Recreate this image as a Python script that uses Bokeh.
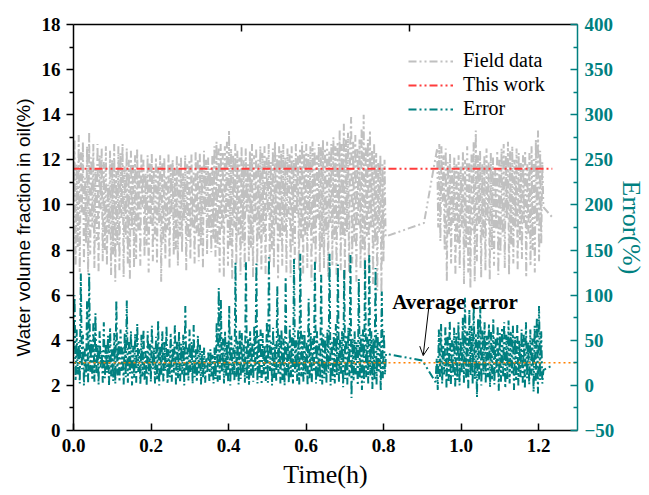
import numpy as np
from bokeh.plotting import figure
from bokeh.models import (Range1d, LinearAxis, FixedTicker, Legend, LegendItem,
                          Arrow, OpenHead, Label, PrintfTickFormatter)
from bokeh.embed import file_html
from bokeh.resources import INLINE

# ---------------- data ----------------
x_ticks = [0.0, 0.2, 0.4, 0.6, 0.8, 1.0, 1.2]
left_ticks = [0, 2, 4, 6, 8, 10, 12, 14, 16, 18]
right_ticks = [-50, 0, 50, 100, 150, 200, 250, 300, 350, 400]

# Field data, first logging period (0 - 0.805 h)
field_a = [
    10.2, 12.9, 7.3, 11.8, 8.1, 13.1, 7.0, 12.4, 9.6, 12.8, 7.4, 11.2, 8.3, 12.6, 6.9, 13.2, 7.8, 12.1, 9.0, 12.7,
    7.2, 11.6, 8.4, 12.7, 7.0, 12.2, 9.8, 12.5, 7.5, 11.9, 8.0, 12.6, 7.3, 10.9, 8.7, 12.4, 6.9, 12.0, 7.8, 12.7,
    6.6, 11.5, 8.2, 12.6, 7.1, 12.3, 9.4, 12.7, 6.8, 11.7, 8.5, 12.5, 7.4, 12.0, 6.7, 12.4, 8.9, 11.8, 7.2, 12.2,
    7.6, 12.5, 8.8, 11.6, 7.3, 12.3, 9.9, 12.0, 7.7, 11.4, 8.2, 12.2, 7.0, 11.9, 9.1, 12.3, 7.5, 11.5, 8.4, 12.1,
    7.4, 11.7, 9.2, 12.2, 6.6, 11.9, 8.3, 12.1, 7.6, 11.3, 8.9, 12.3, 7.2, 11.8, 9.5, 12.0, 7.8, 11.6, 8.0, 12.2,
    7.3, 11.9, 8.6, 12.1, 7.9, 11.4, 9.3, 12.2, 7.1, 11.8, 8.4, 12.0, 7.6, 12.3, 9.0, 11.5, 7.4, 12.4, 8.7, 12.0,
    7.5, 12.3, 8.2, 11.7, 7.2, 12.4, 9.6, 12.0, 7.8, 12.1, 8.8, 11.6, 7.9, 12.2, 8.5, 12.6, 7.7, 12.8, 8.1, 12.5,
    7.0, 12.7, 8.9, 12.3, 6.8, 12.6, 9.4, 12.8, 7.3, 13.3, 8.2, 12.5, 6.7, 12.2, 9.0, 12.7, 7.4, 12.4, 8.6, 12.1,
    6.9, 12.6, 8.3, 12.0, 7.2, 12.5, 9.7, 11.8, 7.5, 12.4, 8.1, 12.7, 6.8, 12.2, 9.2, 12.5, 7.3, 12.0, 8.5, 12.6,
    7.1, 12.3, 8.7, 12.6, 6.9, 12.1, 9.5, 12.7, 7.4, 11.9, 8.0, 12.5, 7.2, 12.8, 9.1, 12.2, 6.7, 12.6, 8.4, 12.4,
    7.3, 12.7, 8.8, 12.1, 7.0, 12.5, 9.3, 12.3, 6.8, 12.6, 8.2, 12.0, 7.5, 12.7, 9.6, 12.2, 7.1, 12.5, 8.5, 12.8,
    6.9, 12.4, 8.6, 12.7, 7.2, 12.3, 9.0, 12.6, 6.6, 12.8, 8.3, 12.5, 7.4, 12.2, 9.4, 12.7, 7.0, 12.6, 8.1, 12.9,
    7.2, 12.5, 8.7, 12.8, 6.8, 12.4, 9.2, 12.7, 7.3, 13.0, 8.4, 12.6, 6.9, 12.8, 9.0, 13.3, 7.1, 12.7, 8.5, 13.6,
    6.7, 12.9, 8.8, 13.2, 7.0, 12.6, 13.9, 7.4, 12.8, 8.3, 13.1, 6.6, 12.5, 9.1, 12.9, 7.2, 13.4, 8.0, 14.0, 6.9,
    12.6, 8.6, 12.9, 7.1, 13.3, 9.0, 12.4, 6.5, 12.7, 8.2, 12.3, 6.2, 11.9, 8.8, 12.2, 6.0, 11.8, 7.5, 12.0, 8.6,
]
field_gap_t = [0.904]
field_gap = [9.2]
# Field data, second logging period (0.938 - 1.212 h)
field_b = [
    12.5, 9.0, 12.7, 8.4, 12.6, 10.1, 12.2, 8.0, 12.5, 6.6, 11.9, 8.7, 12.3, 7.4, 11.6, 9.2, 12.1, 6.9, 11.8, 8.3,
    12.2, 7.2, 11.7, 9.0, 12.4, 6.5, 12.0, 8.1, 12.6, 7.0, 11.9, 6.3, 12.3, 8.8, 12.8, 6.6, 13.3, 7.5, 12.2, 9.1,
    12.4, 6.8, 11.8, 8.5, 12.2, 7.1, 12.5, 9.3, 11.9, 6.7, 12.3, 8.0, 12.1, 7.3, 11.7, 8.9, 12.4, 6.9, 12.0, 7.8,
    12.5, 8.6, 12.7, 7.2, 12.2, 9.4, 12.8, 6.9, 12.4, 8.2, 12.6, 7.4, 12.0, 9.0, 12.5, 7.1, 12.3, 8.4, 11.9, 7.6,
    12.2, 9.2, 12.4, 6.8, 11.8, 8.7, 12.3, 7.3, 12.6, 8.0, 12.1, 7.0, 12.9, 9.1, 13.3, 7.5, 12.4, 8.3, 11.9, 9.9,
]
field_tail_t = [1.235]
field_tail = [9.45]

# This work (model prediction)
model_t = [0.0, 1.235]
model_v = [11.6, 11.6]

# Error (%), first period
error_a = [
    40, 100, 5, 62, 12, 48, 2, 124, 18, 56, 0, 42, 10, 95, 3, 124, 15, 50, 6, 70,
    4, 80, 12, 45, 1, 60, 20, 38, 3, 70, 8, 46, 14, 55, 0, 64, 10, 40, 5, 58,
    2, 94, 11, 50, 4, 62, 16, 42, 1, 58, 9, 94, 3, 48, 13, 60, 0, 44, 8, 57,
    3, 68, 15, 40, 1, 56, 10, 62, 5, 38, 0, 60, 12, 46, 4, 66, 18, 42, 2, 54,
    6, 72, 0, 44, 11, 60, 3, 48, 16, 66, 2, 40, 9, 58, 4, 45, 14, 68, 1, 50,
    8, 60, 3, 46, 12, 56, 0, 88, 10, 42, 5, 62, 15, 48, 2, 67, 9, 40, 4, 55,
    12, 45, 1, 38, 8, 42, 3, 30, 14, 38, 5, 40, 10, 34, 2, 42, 7, 70, 4, 108,
    6, 95, 14, 52, 2, 60, 10, 48, 4, 88, 0, 55, 12, 42, 5, 136, 9, 50, 1, 62,
    7, 58, 13, 45, 3, 138, 8, 52, 0, 60, 11, 48, 4, 66, 15, 135, 2, 55, 9, 62,
    1, 58, 12, 44, 5, 70, 3, 142, 16, 50, 0, 64, 8, 46, 4, 110, 13, 56, 2, 62,
    6, 52, 0, 120, 11, 48, 3, 66, 9, 54, 2, 140, 14, 50, 5, 62, 1, 146, 10, 56,
    4, 60, 12, 48, 0, 96, 7, 58, 3, 52, 15, 138, 2, 60, 9, 46, 5, 124, 1, 58,
    8, 54, 3, 62, 14, 146, 0, 50, 6, 58, 2, 68, 11, 134, 4, 52, 13, 60, -2, 128,
    7, 56, 1, 64, 10, 146, -14, 52, 5, 60, 12, 48, 0, 118, 8, 56, -5, 62, 3, 140,
    9, 54, 2, 146, 11, 60, -4, 52, 6, 130, 1, 58, 14, 48, -6, 104, 8, 60, 12, 35,
]
error_gap_t = [0.90]
error_gap = [27.6]
# Error (%), second period (0.934 - 1.212 h)
error_b = [
    3.5, 30, -5, 62, 8, 68, 2, 45, 12, 66, -3, 55, 5, 72, 1, 50, 10, 64, -2, 58,
    6, 70, 0, 52, 14, 75, 3, 97, 8, 60, -4, 84, 11, 66, 2, 92, 7, 58, -13, 74,
    5, 88, 0, 62, 12, 70, 3, 55, 9, 68, -2, 60, 6, 74, 1, 52, 13, 66, -6, 58,
    4, 64, 10, 70, -3, 56, 7, 72, 2, 60, 12, 66, -5, 54, 5, 68, 0, 50, 9, 62,
    3, 56, -4, 70, 8, 48, 1, 62, 11, 52, -7, 66, 4, 75, -9, 88, 6, 60, 2, 17,
]
error_tail_t = [1.235]
error_tail = [22]

# Average error
avg_t = [0.0, 1.3]
avg_v = [25, 25]

# time stamps of the logged samples (uniform sampling within each period)
t_field = np.concatenate([np.linspace(0.0, 0.805, len(field_a)), field_gap_t,
                          np.linspace(0.938, 1.212, len(field_b)), field_tail_t])
v_field = np.concatenate([field_a, field_gap, field_b, field_tail])
t_err = np.concatenate([np.linspace(0.0, 0.806, len(error_a)), error_gap_t,
                        np.linspace(0.934, 1.212, len(error_b)), error_tail_t])
v_err = np.concatenate([error_a, error_gap, error_b, error_tail])

# ---------------- styling ----------------
TEAL = "#008080"
GRAY = "#C0C0C0"
RED = "#FF3C3C"
ORANGE = "#FF8000"
SERIF = "Liberation Serif"
DASH = "8 3 2 3 2 3"
TICK_FS = "19px"

p = figure(width=649, height=495, output_backend="svg", toolbar_location=None,
           x_range=Range1d(0, 1.3), y_range=Range1d(0, 18),
           min_border_left=73, min_border_right=72, min_border_top=24, min_border_bottom=65)
p.xgrid.visible = False
p.ygrid.visible = False
p.outline_line_color = None
p.background_fill_color = "white"
p.border_fill_color = "white"

p.extra_y_ranges = {"err": Range1d(-50, 400)}
p.extra_x_ranges = {"top": Range1d(0, 3)}

# bottom axis
xa = p.xaxis[0]
xa.ticker = FixedTicker(ticks=x_ticks, minor_ticks=[])
xa.formatter = PrintfTickFormatter(format="%.1f")
xa.major_tick_in = 7
xa.major_tick_out = 0
xa.minor_tick_in = 0
xa.minor_tick_out = 0
xa.axis_line_width = 1.5
xa.axis_line_color = "black"
xa.major_tick_line_color = "black"
xa.major_tick_line_width = 1.5
xa.major_label_text_color = "black"
xa.major_label_text_font = SERIF
xa.major_label_text_font_style = "bold"
xa.major_label_text_font_size = TICK_FS
xa.major_label_standoff = 8
xa.axis_label = "Time(h)"
xa.axis_label_text_color = "black"
xa.axis_label_text_font = SERIF
xa.axis_label_text_font_style = "normal"
xa.axis_label_text_font_size = "26px"
xa.axis_label_standoff = 5

# left axis
ya = p.yaxis[0]
ya.ticker = FixedTicker(ticks=left_ticks, minor_ticks=[1, 3, 5, 7, 9, 11, 13, 15, 17])
ya.major_tick_in = 0
ya.major_tick_out = 7
ya.minor_tick_in = 0
ya.minor_tick_out = 4
ya.axis_line_width = 1.5
ya.axis_line_color = "black"
ya.major_tick_line_color = "black"
ya.minor_tick_line_color = "black"
ya.major_tick_line_width = 1.5
ya.minor_tick_line_width = 1.5
ya.major_label_text_color = "black"
ya.major_label_text_font = SERIF
ya.major_label_text_font_style = "bold"
ya.major_label_text_font_size = TICK_FS
ya.major_label_standoff = 6
ya.axis_label = "Water volume fraction in oil(%)"
ya.axis_label_text_color = "black"
ya.axis_label_text_font = "Liberation Sans"
ya.axis_label_text_font_style = "normal"
ya.axis_label_text_font_size = "19px"
ya.axis_label_standoff = 5

# right axis
ra = LinearAxis(y_range_name="err",
                ticker=FixedTicker(ticks=right_ticks,
                                   minor_ticks=[-25, 25, 75, 125, 175, 225, 275, 325, 375]))
ra.major_tick_in = 7
ra.major_tick_out = 0
ra.minor_tick_in = 4
ra.minor_tick_out = 0
ra.axis_line_color = TEAL
ra.major_tick_line_color = TEAL
ra.minor_tick_line_color = TEAL
ra.axis_line_width = 1.5
ra.major_tick_line_width = 1.5
ra.minor_tick_line_width = 1.5
ra.major_label_text_color = TEAL
ra.major_label_text_font = SERIF
ra.major_label_text_font_style = "bold"
ra.major_label_text_font_size = TICK_FS
ra.major_label_standoff = 7
ra.axis_label = "Error(%)"
ra.axis_label_text_color = TEAL
ra.axis_label_text_font = SERIF
ra.axis_label_text_font_style = "normal"
ra.axis_label_text_font_size = "26px"
ra.axis_label_standoff = 0
p.add_layout(ra, "right")

# top axis (ticks only)
ta = LinearAxis(x_range_name="top", ticker=FixedTicker(ticks=[1, 2], minor_ticks=[]),
                major_label_overrides={1: "", 2: ""})
ta.major_tick_in = 7
ta.major_tick_out = 0
ta.minor_tick_in = 0
ta.minor_tick_out = 0
ta.axis_line_width = 1.5
ta.axis_line_color = "black"
ta.major_tick_line_color = "black"
ta.major_tick_line_width = 1.5
ta.major_label_standoff = 0
p.add_layout(ta, "above")

# ---------------- glyphs ----------------
r_field = p.line(t_field, v_field, line_color=GRAY, line_width=2, line_dash=DASH)
r_model = p.line(model_t, model_v, line_color=RED, line_width=2, line_dash=DASH)
r_err = p.line(t_err, v_err, line_color=TEAL, line_width=2, line_dash=DASH, y_range_name="err")
p.line(avg_t, avg_v, line_color=ORANGE, line_width=1.5, line_dash="2 3", y_range_name="err")

legend = Legend(items=[LegendItem(label="Field data", renderers=[r_field]),
                       LegendItem(label="This work", renderers=[r_model]),
                       LegendItem(label="Error", renderers=[r_err])],
                location=(335, 310))
legend.padding = 0
legend.margin = 0
legend.spacing = 1
legend.glyph_width = 45
legend.glyph_height = 20
legend.label_height = 20
legend.label_standoff = 10
legend.label_text_font = SERIF
legend.label_text_font_size = "20px"
legend.label_text_color = "black"
legend.background_fill_alpha = 0
legend.border_line_color = None
p.add_layout(legend)

p.add_layout(Label(x=0.822, y=5.69, text="Average error", text_font=SERIF,
                   text_font_style="bold", text_font_size="21px",
                   text_baseline="alphabetic", text_color="black"))
p.add_layout(Arrow(end=OpenHead(size=9, line_width=1, line_color="black"),
                   x_start=0.9165, y_start=5.47, x_end=0.902, y_end=3.32,
                   line_width=1, line_color="black"))

open("out.html", "w").write(file_html(p, INLINE))
